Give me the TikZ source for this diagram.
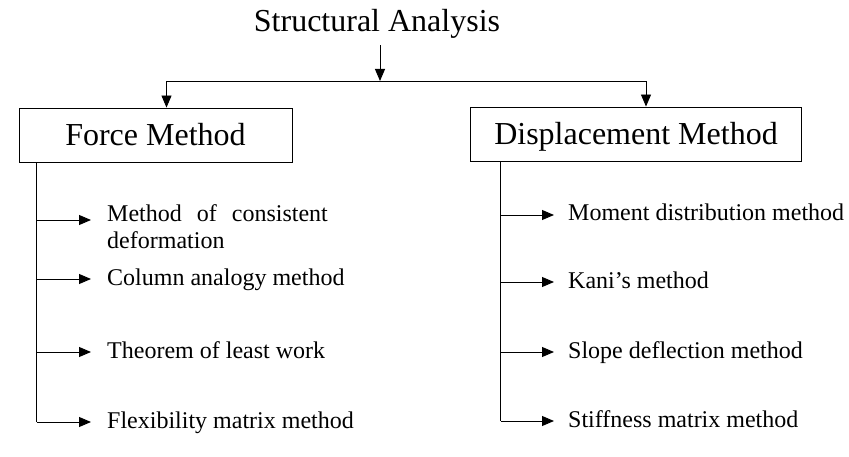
\documentclass[tikz,border=0pt]{standalone}
\usepackage{fontspec}
\setmainfont{Liberation Serif}
\usetikzlibrary{arrows.meta}
\begin{document}
\begin{tikzpicture}[x=1pt,y=-1pt,
  box/.style={draw, line width=0.9pt, inner sep=0pt, text height=21pt, text depth=0pt, font=\fontsize{32}{36}\selectfont},
  item/.style={anchor=base west, inner sep=0pt, font=\fontsize{24}{27}\selectfont, align=left},
  arr/.style={-{Triangle[length=12pt,width=10pt]}, line width=0.9pt},
  ln/.style={line width=0.9pt}]
\useasboundingbox (0,0) rectangle (849,457);
\node[anchor=base, inner sep=0pt, font=\fontsize{32}{36}\selectfont] (title) at (377,32) {Structural Analysis};
\node[box, minimum width=273pt, minimum height=54pt] (force) at (155.5,135) {Force Method};
\node[box, minimum width=331pt, minimum height=54pt] (disp) at (636,134) {Displacement Method};
\coordinate (j) at (380,81);
\draw[arr] (title.south -| j) ++(0,6) -- (j);
\draw[arr] (j) -| ([xshift=11pt]force.north);
\draw[arr] (j) -| ([xshift=10pt]disp.north);
% left items
\node[item] (f1) at (107,249) {Method\hspace{15pt}of\hspace{15pt}consistent\\deformation};
\node[item] (f2) at (107,285) {Column analogy method};
\node[item] (f3) at (107,358) {Theorem of least work};
\node[item] (f4) at (107,428) {Flexibility matrix method};
\coordinate (fv) at ([xshift=18pt]force.south west);
\coordinate (f1a) at ([shift={(-16pt,29pt)}]f1.base west);
\foreach \i in {2,3,4}{\coordinate (f\i a) at ([shift={(-16pt,6pt)}]f\i.base west);}
\draw[ln] (fv) -- (fv |- f4a);
\foreach \i in {1,2,3,4}{\draw[arr] (fv |- f\i a) -- (f\i a);}
% right items
\node[item] (d1) at (568,221) {Moment distribution method};
\node[item] (d2) at (568,288) {Kani’s method};
\node[item] (d3) at (568,358) {Slope deflection method};
\node[item] (d4) at (568,427) {Stiffness matrix method};
\coordinate (dv) at ([xshift=30.5pt]disp.south west);
\foreach \i in {1,2,3,4}{\coordinate (d\i a) at ([shift={(-14pt,6pt)}]d\i.base west);}
\draw[ln] (dv) -- (dv |- d4a);
\foreach \i in {1,2,3,4}{\draw[arr] (dv |- d\i a) -- (d\i a);}
\end{tikzpicture}
\end{document}
